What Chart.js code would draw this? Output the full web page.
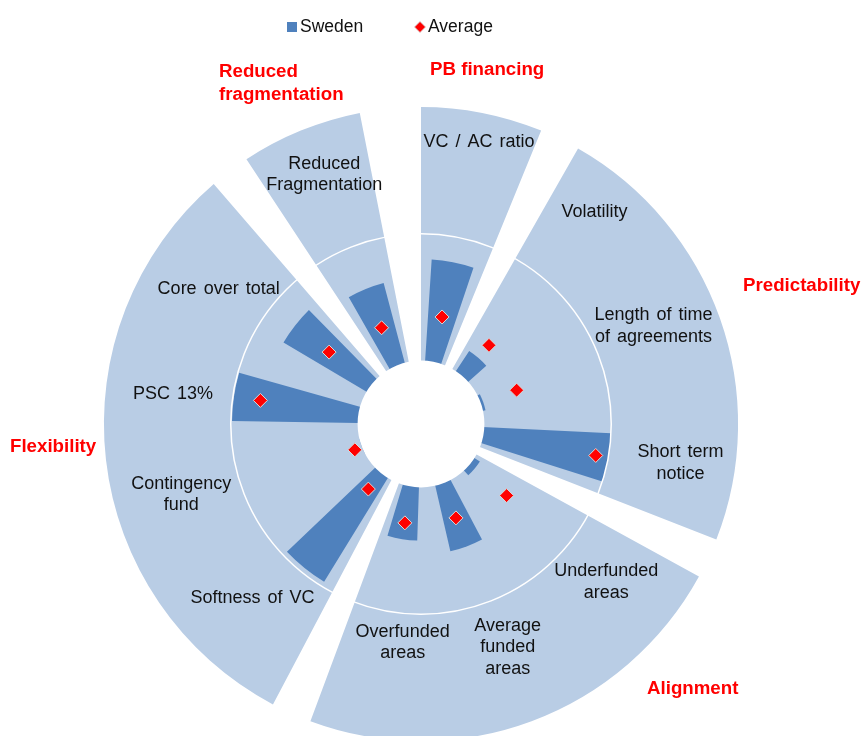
<!DOCTYPE html>
<html>
<head>
<meta charset="utf-8">
<script src="https://cdn.jsdelivr.net/npm/chart.js@4.4.1/dist/chart.umd.min.js"></script>
<style>
  html, body { margin: 0; padding: 0; background: #fff; }
</style>
</head>
<body>
<canvas id="chart" width="864" height="736"></canvas>
<script>
// categories clockwise from the top, grouped
const categories = [
    'VC / AC ratio',
    'Volatility',
    ['Length of time', 'of agreements'],
    ['Short term', 'notice'],
    ['Underfunded', 'areas'],
    ['Average', 'funded', 'areas'],
    ['Overfunded', 'areas'],
    'Softness of VC',
    ['Contingency', 'fund'],
    'PSC 13%',
    'Core over total',
    ['Reduced', 'Fragmentation']
];
const sweden  = [0.80, 0.19, 0.02, 1.00, 0.05, 0.53, 0.42, 0.96, 0.00, 0.99, 0.76, 0.65];
const average = [0.36, 0.32, 0.30, 0.90, 0.38, 0.29, 0.29, 0.16, 0.06, 0.78, 0.42, 0.32];

const groups     = ['PB financing', 'Predictability', 'Alignment', 'Flexibility', ['Reduced', 'fragmentation']];
const groupSizes = [1, 3, 3, 4, 1];
const groupOuter = [2, 2, 2, 2, 2];

const BLUE = '#4F81BD';
const LIGHT = '#B9CDE5';
const NONE = 'rgba(0,0,0,0)';
const FONT = "'Liberation Sans', Arial, sans-serif";

// angular layout: 8 units per category plus one spare unit
const SLOT = 8;
const nUnits = categories.length * SLOT + 1;
const unit = 360 / nUnits;

// light blue group wedges with gaps between them
const bgData = [], bgAngles = [], bgColors = [];
groupSizes.forEach((n, g) => {
    bgData.push(groupOuter[g]); bgAngles.push((n * SLOT - 2) * unit); bgColors.push(LIGHT);
    bgData.push(0); bgAngles.push((g === groupSizes.length - 1 ? 3 : 2) * unit); bgColors.push(NONE);
});

// Sweden bars, centred inside each category slot
const barData = [0], barAngles = [unit], barColors = [NONE];
sweden.forEach(v => {
    barData.push(v, 0);
    barAngles.push(4 * unit, 4 * unit);
    barColors.push(BLUE, NONE);
});

// average markers sit on the bar centres
const labels = Array.from({length: nUnits}, () => '');
const avgPoints = Array(nUnits).fill(null);
categories.forEach((c, i) => {
    labels[i * SLOT + 3] = c;
    avgPoints[i * SLOT + 3] = average[i];
});

// where the category names sit: [angle deg, radius in scale units]
const labelSpots = [
    [11.6, 1.77], [39.3, 1.66], [67.1, 1.49], [98.6, 1.57],
    [130.5, 1.42], [158.8, 1.39], [184.8, 1.23], [224.1, 1.41],
    [253.6, 1.47], [276.9, 1.47], [303.8, 1.42], [338.8, 1.61]
];
const titleSpots = [[430, 70], [743, 286], [647, 689], [10, 447], [219, 72]];

const textPlugin = {
    id: 'texts',
    afterDraw(chart) {
        const ctx = chart.ctx;
        const r = chart.scales.r;
        ctx.save();
        ctx.textBaseline = 'middle';

        // category names
        ctx.font = '18px ' + FONT;
        ctx.wordSpacing = '2px';
        ctx.fillStyle = '#111';
        ctx.textAlign = 'center';
        categories.forEach((c, i) => {
            const a = labelSpots[i][0] * Math.PI / 180;
            const d = r.getDistanceFromCenterForValue(labelSpots[i][1]);
            const x = r.xCenter + d * Math.sin(a);
            const y = r.yCenter - d * Math.cos(a);
            const lines = [].concat(c);
            lines.forEach((t, k) => ctx.fillText(t, x, y + (k - (lines.length - 1) / 2) * 21.5));
        });
        ctx.wordSpacing = '0px';

        // group titles
        ctx.font = 'bold 18.7px ' + FONT;
        ctx.fillStyle = '#FF0000';
        ctx.textAlign = 'left';
        groups.forEach((g, i) => {
            [].concat(g).forEach((t, k) => ctx.fillText(t, titleSpots[i][0], titleSpots[i][1] + k * 23));
        });

        // legend
        ctx.font = '17.5px ' + FONT;
        ctx.fillStyle = BLUE;
        ctx.fillRect(287, 22, 10, 10);
        ctx.fillStyle = '#111';
        ctx.fillText('Sweden', 300, 27);
        ctx.beginPath();
        ctx.moveTo(420, 21.5); ctx.lineTo(425.5, 27); ctx.lineTo(420, 32.5); ctx.lineTo(414.5, 27);
        ctx.closePath();
        ctx.fillStyle = '#FF0000';
        ctx.fill();
        ctx.strokeStyle = '#D0D0D0';
        ctx.lineWidth = 0.8;
        ctx.stroke();
        ctx.fillStyle = '#111';
        ctx.fillText('Average', 428, 27);
        ctx.restore();
    }
};

new Chart(document.getElementById('chart'), {
    type: 'polarArea',
    data: {
        labels: labels,
        datasets: [
            {
                type: 'radar',
                label: 'Average',
                data: avgPoints,
                showLine: false,
                fill: false,
                pointStyle: 'rectRot',
                pointRadius: 7,
                pointBackgroundColor: '#FF0000',
                pointBorderColor: '#D9D9D9',
                pointBorderWidth: 1,
                order: 0
            },
            {
                label: 'hole',
                data: [0],
                angle: [360],
                backgroundColor: '#fff',
                borderWidth: 0,
                order: 1
            },
            {
                label: 'Sweden',
                data: barData,
                angle: barAngles,
                backgroundColor: barColors,
                borderWidth: 0,
                order: 2
            },
            {
                label: 'groups',
                data: bgData,
                angle: bgAngles,
                backgroundColor: bgColors,
                borderWidth: 0,
                order: 3
            }
        ]
    },
    options: {
        responsive: false,
        animation: false,
        events: [],
        layout: { padding: { top: 112, right: 22, left: 0, bottom: 0 } },
        plugins: {
            legend: { display: false },
            tooltip: { enabled: false }
        },
        scales: {
            r: {
                min: -0.5,
                max: 1.96,
                startAngle: 0,
                ticks: { display: false, stepSize: 1 },
                grid: {
                    circular: true,
                    z: 1,
                    lineWidth: 1.5,
                    color: ctx => Math.abs(ctx.tick.value - 1) < 1e-6 ? '#FFFFFF' : NONE
                },
                angleLines: { display: false },
                pointLabels: { display: false }
            }
        }
    },
    plugins: [textPlugin]
});
</script>
</body>
</html>
